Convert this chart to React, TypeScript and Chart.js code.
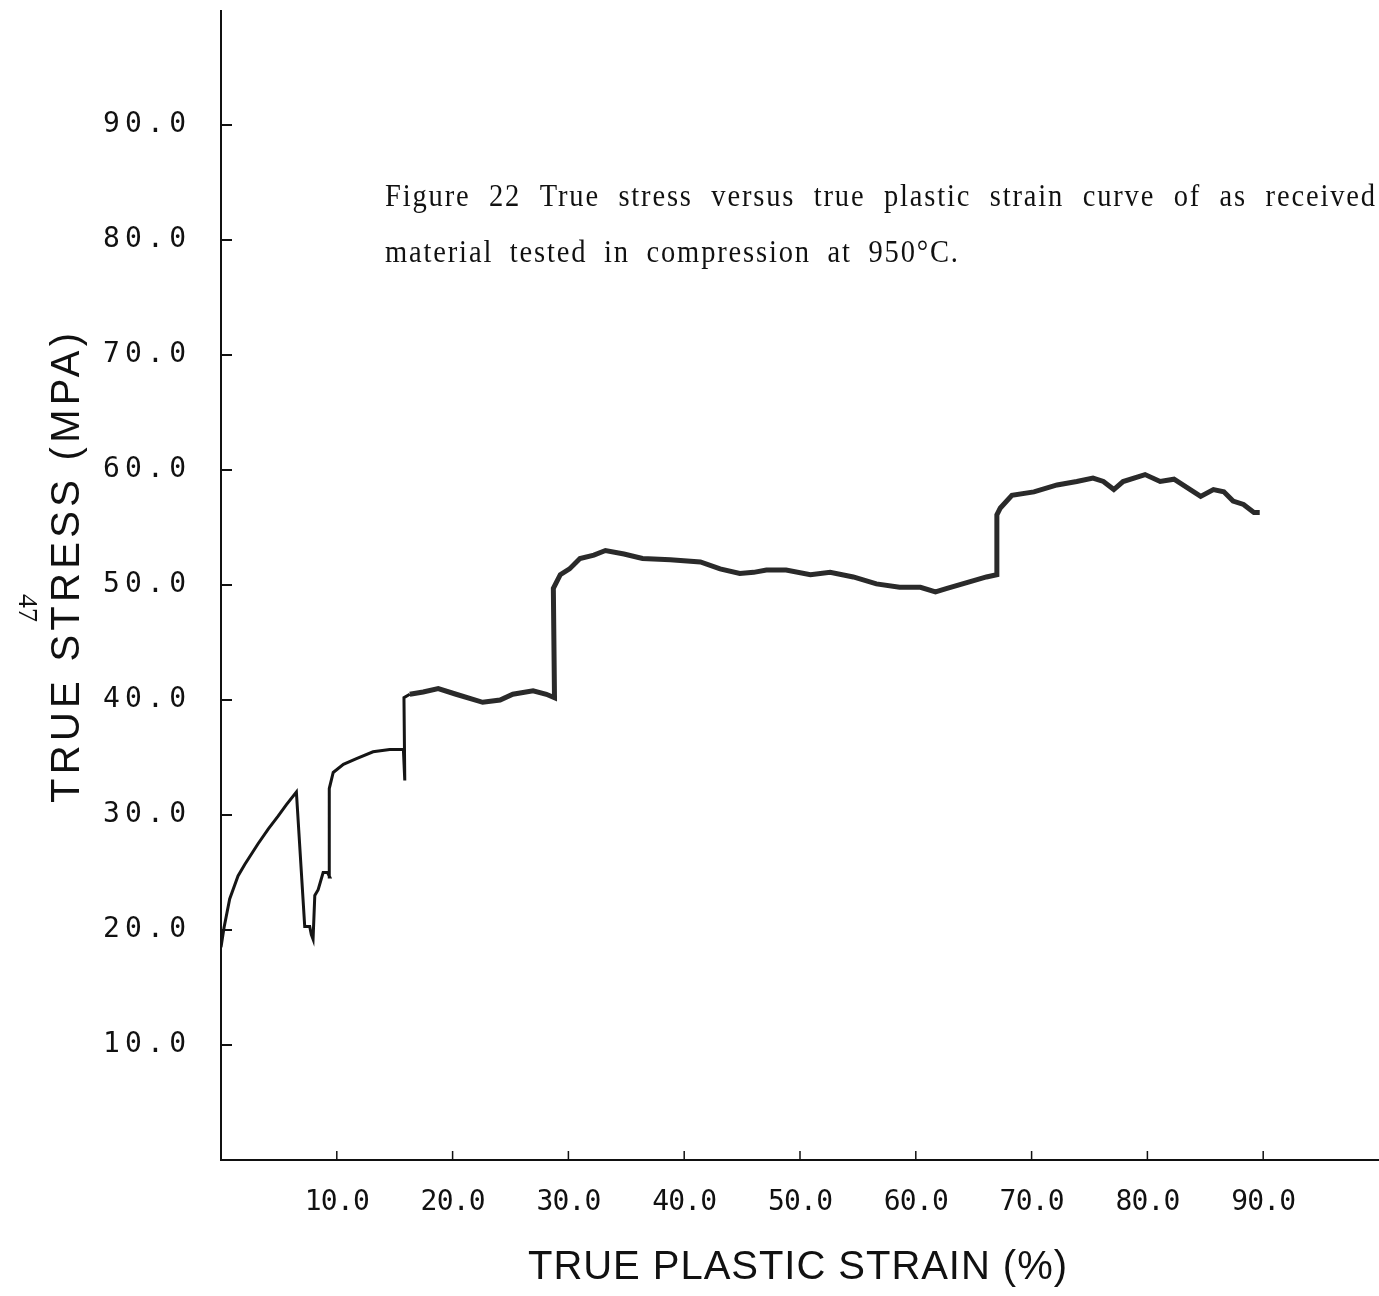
import React, { useEffect, useRef } from 'react';
import { Chart, registerables } from 'chart.js';

Chart.register(...registerables);

// ---- data ----
const strain = [
  0.0, 0.26, 0.75, 1.47, 2.05, 3.2, 4.09, 4.93, 5.65, 6.51,
  7.23, 7.66, 7.8, 7.95, 8.1, 8.39, 8.82, 9.2, 9.39, 9.35,
  9.69, 10.57, 11.7, 13.13, 14.57, 15.75, 15.87, 15.8,
  16.3, 17.46, 18.76, 20.3, 22.6, 24.1, 25.2, 26.95, 28.1, 28.8,
  28.7, 29.3, 30.1, 31.0, 32.2, 33.2, 34.8, 36.4, 38.8, 41.4,
  43.1, 44.8, 46.0, 47.1, 48.8, 50.9, 52.6, 54.6, 56.6, 58.6,
  60.4, 61.7, 62.7, 64.7, 66.1, 67.0,
  67.0, 67.3, 68.3, 70.2, 72.2, 73.9, 75.3, 76.2, 77.1, 77.9,
  79.8, 81.1, 82.3, 83.7, 84.6, 85.7, 86.6, 87.4, 88.3, 89.2, 89.7,
];
const stress = [
  18.5, 20.2, 22.7, 24.7, 25.7, 27.5, 28.8, 29.9, 30.9, 32.0,
  20.3, 20.3, 19.6, 19.2, 23.0, 23.5, 25.0, 25.0, 24.6, 32.3,
  33.7, 34.4, 34.9, 35.5, 35.7, 35.7, 33.0, 40.2,
  40.5, 40.7, 41.0, 40.5, 39.8, 40.0, 40.5, 40.8, 40.5, 40.2,
  49.7, 50.9, 51.4, 52.3, 52.6, 53.0, 52.7, 52.3, 52.2, 52.0,
  51.4, 51.0, 51.1, 51.3, 51.3, 50.9, 51.1, 50.7, 50.1, 49.8,
  49.8, 49.4, 49.7, 50.3, 50.7, 50.9,
  56.1, 56.7, 57.8, 58.1, 58.7, 59.0, 59.3, 59.0, 58.3, 59.0,
  59.6, 59.0, 59.2, 58.3, 57.7, 58.3, 58.1, 57.3, 57.0, 56.3, 56.3,
];

const xTickValues = [10, 20, 30, 40, 50, 60, 70, 80, 90];
const yTickValues = [10, 20, 30, 40, 50, 60, 70, 80, 90];
const xTickLabels = ['10.0', '20.0', '30.0', '40.0', '50.0', '60.0', '70.0', '80.0', '90.0'];
const yTickLabels = ['10.0', '20.0', '30.0', '40.0', '50.0', '60.0', '70.0', '80.0', '90.0'];
const xTitle = 'TRUE PLASTIC STRAIN (%)';
const yTitle = 'TRUE STRESS (MPA)';
const captionLines = [
  'Figure 22 True stress versus true plastic strain curve of as received',
  'material tested in compression at 950°C.',
];
const pageNumber = '47';

const W = 1379;
const H = 1296;

function drawFitted(ctx: CanvasRenderingContext2D, text: string, left: number, y: number, width: number) {
  (ctx as any).letterSpacing = '0px';
  const w = ctx.measureText(text).width;
  const n = Array.from(text).length;
  const ls = n > 1 ? (width - w) / (n - 1) : 0;
  (ctx as any).letterSpacing = ls + 'px';
  ctx.textAlign = 'left';
  ctx.fillText(text, left, y);
  (ctx as any).letterSpacing = '0px';
}

function drawJustified(ctx: CanvasRenderingContext2D, text: string, left: number, y: number, width: number, ls: number, sx: number) {
  ctx.save();
  ctx.translate(left, y);
  ctx.scale(sx, 1);
  (ctx as any).letterSpacing = ls + 'px';
  ctx.textAlign = 'left';
  const words = text.split(' ');
  const widths = words.map((w) => ctx.measureText(w).width - ls);
  const total = widths.reduce((a, b) => a + b, 0);
  const gap = words.length > 1 ? (width / sx - total) / (words.length - 1) : 0;
  let x = 0;
  words.forEach((w, i) => {
    ctx.fillText(w, x, 0);
    x += widths[i] + gap;
  });
  (ctx as any).letterSpacing = '0px';
  ctx.restore();
}

const plotterAxes = {
  id: 'plotterAxes',
  afterDraw(chart: any) {
    const ctx: CanvasRenderingContext2D = chart.ctx;
    const xs = chart.scales.x;
    const ys = chart.scales.y;
    const x0 = xs.getPixelForValue(0);
    const x1 = xs.getPixelForValue(100);
    const y0 = ys.getPixelForValue(0);
    const y1 = ys.getPixelForValue(100);
    ctx.save();
    ctx.strokeStyle = '#111';
    ctx.fillStyle = '#111';
    ctx.lineCap = 'butt';
    // axis lines
    ctx.lineWidth = 2;
    ctx.beginPath();
    ctx.moveTo(x0, y1);
    ctx.lineTo(x0, y0);
    ctx.lineTo(x1, y0);
    ctx.stroke();
    // y ticks (inward)
    ctx.lineWidth = 2;
    yTickValues.forEach((v) => {
      const py = ys.getPixelForValue(v);
      ctx.beginPath();
      ctx.moveTo(x0, py);
      ctx.lineTo(x0 + 11, py);
      ctx.stroke();
    });
    // x ticks (inward)
    ctx.lineWidth = 1.5;
    xTickValues.forEach((v) => {
      const px = xs.getPixelForValue(v);
      ctx.beginPath();
      ctx.moveTo(px, y0);
      ctx.lineTo(px, y0 - 9);
      ctx.stroke();
    });
    // tick labels
    ctx.font = '28px "DejaVu Sans Mono"';
    ctx.textBaseline = 'middle';
    yTickValues.forEach((v, i) => {
      const py = ys.getPixelForValue(v);
      drawFitted(ctx, yTickLabels[i], 103, py, 83);
    });
    xTickValues.forEach((v, i) => {
      const px = xs.getPixelForValue(v);
      drawFitted(ctx, xTickLabels[i], px - 32, y0 + 43, 65);
    });
    // axis titles
    ctx.font = '40px "Liberation Sans"';
    ctx.textBaseline = 'middle';
    drawFitted(ctx, xTitle, 528, 1268, 539);
    ctx.save();
    ctx.translate(68, 803);
    ctx.rotate(-Math.PI / 2);
    drawFitted(ctx, yTitle, 0, 0, 470);
    ctx.restore();
    // page number
    ctx.save();
    ctx.translate(26, 608);
    ctx.rotate(Math.PI / 2);
    ctx.font = '28px "Liberation Serif"';
    ctx.textAlign = 'center';
    ctx.textBaseline = 'middle';
    ctx.fillText(pageNumber, 0, 0);
    ctx.restore();
    // caption
    ctx.font = '31px "Liberation Serif"';
    ctx.textBaseline = 'alphabetic';
    drawJustified(ctx, captionLines[0], 385, 206, 990, 2, 0.92);
    drawJustified(ctx, captionLines[1], 385, 262, 573, 2, 0.92);
    ctx.restore();
  },
};

export default function App() {
  const ref = useRef<HTMLCanvasElement>(null);
  useEffect(() => {
    if (!ref.current) return;
    const points = strain.map((x, i) => ({ x, y: stress[i] }));
    const chart = new Chart(ref.current, {
      type: 'line',
      data: {
        datasets: [
          {
            data: points,
            borderColor: '#151515',
            borderWidth: 3,
            pointRadius: 0,
            tension: 0,
            fill: false,
            segment: {
              borderWidth: (c: any) => (c.p0.parsed.x > 16 ? 5 : 3),
              borderColor: (c: any) => (c.p0.parsed.x > 16 ? '#2a2a2a' : '#151515'),
            },
          } as any,
        ],
      },
      options: {
        animation: false,
        responsive: false,
        devicePixelRatio: 1,
        layout: { padding: { left: 221, right: 0, top: 10, bottom: H - 1160 } },
        plugins: { legend: { display: false }, tooltip: { enabled: false }, title: { display: false } },
        scales: {
          x: { type: 'linear', min: 0, max: 100, display: false },
          y: { type: 'linear', min: 0, max: 100, display: false },
        },
      },
      plugins: [plotterAxes],
    });
    return () => chart.destroy();
  }, []);
  return (
    <div style={{ position: 'absolute', left: 0, top: 0, width: W, height: H, background: '#fff' }}>
      <canvas ref={ref} width={W} height={H} />
    </div>
  );
}
